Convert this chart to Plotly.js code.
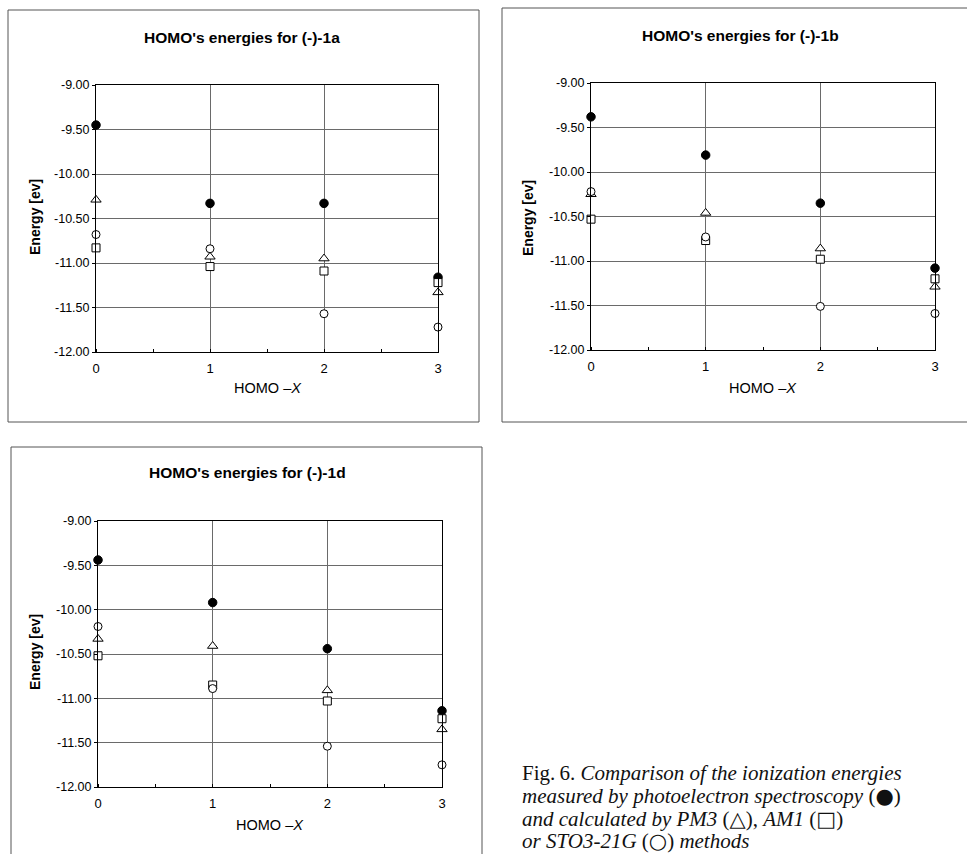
<!DOCTYPE html>
<html>
<head>
<meta charset="utf-8">
<script src="https://cdn.plot.ly/plotly-3.0.1.min.js"></script>
<style>html,body{margin:0;padding:0;background:#fff;}#chart{width:967px;height:854px;}</style>
</head>
<body>
<div id="chart"></div>
<script>
// ---- data ----
const homoX = [0, 1, 2, 3];
const yTickVals = [-12, -11.5, -11, -10.5, -10, -9.5, -9];
const yTickText = ["-12.00", "-11.50", "-11.00", "-10.50", "-10.00", "-9.50", "-9.00"];
const xTickVals = [0, 1, 2, 3];
const xTickText = ["0", "1", "2", "3"];

const titles = ["HOMO's energies for (-)-1a", "HOMO's energies for (-)-1b", "HOMO's energies for (-)-1d"];

// compound 1a
const pes1a   = [-9.45, -10.33, -10.33, -11.16];
const pm3_1a  = [-10.29, -10.93, -10.95, -11.33];
const am1_1a  = [-10.83, -11.04, -11.09, -11.22];
const sto_1a  = [-10.68, -10.84, -11.57, -11.72];
// compound 1b
const pes1b   = [-9.38, -9.81, -10.35, -11.08];
const pm3_1b  = [-10.25, -10.46, -10.86, -11.29];
const am1_1b  = [-10.53, -10.77, -10.98, -11.20];
const sto_1b  = [-10.22, -10.73, -11.51, -11.59];
// compound 1d
const pes1d   = [-9.44, -9.92, -10.44, -11.14];
const pm3_1d  = [-10.33, -10.41, -10.91, -11.35];
const am1_1d  = [-10.52, -10.85, -11.03, -11.23];
const sto_1d  = [-10.19, -10.89, -11.54, -11.75];

const methodNames = ["Photoelectron spectroscopy", "PM3", "AM1", "STO3-21G"];

const sym = s => "<span style=\"font-family:'DejaVu Sans'\">" + s + "\uFE0E</span>";
const captionLines = [
  "Fig.\u20096. <i>Comparison of the ionization energies</i>",
  "<i>measured by photoelectron spectroscopy</i> (" + sym("\u25CF") + ")",
  "<i>and calculated by PM3</i> (" + sym("\u25B3") + "), <i>AM1</i> (" + sym("\u25A1") + ")",
  "<i>or STO3-21G</i> (" + sym("\u25CB") + ") <i>methods</i>"
];

// ---- layout helpers ----
const W = 967, H = 854;
const px = v => v / W;
const py = v => 1 - v / H;

const panels = [
  {series: [pes1a, pm3_1a, am1_1a, sto_1a], plot: [96, 438, 85, 352], frame: [8, 479, 10, 422],
   title: [242, 37], ytitle: [35, 217], xtitle: [268, 388]},
  {series: [pes1b, pm3_1b, am1_1b, sto_1b], plot: [591, 935, 83, 350], frame: [502, 975, 8, 422],
   title: [740, 35], ytitle: [528, 218], xtitle: [763, 388]},
  {series: [pes1d, pm3_1d, am1_1d, sto_1d], plot: [98, 442, 521, 787], frame: [11, 482, 447, 870],
   title: [247, 473], ytitle: [35, 652], xtitle: [270, 825]}
];

const markerStyles = [
  {symbol: "circle", color: "#000", line: {color: "#000", width: 1}, size: 8.5},
  {symbol: "triangle-up", color: "#fff", line: {color: "#000", width: 1}, size: 9},
  {symbol: "square", color: "#fff", line: {color: "#000", width: 1}, size: 8},
  {symbol: "circle", color: "#fff", line: {color: "#000", width: 1}, size: 8}
];

const traces = [];
const layout = {
  width: W, height: H,
  margin: {l: 0, r: 0, t: 0, b: 0},
  paper_bgcolor: "#fff", plot_bgcolor: "#fff",
  showlegend: false,
  font: {family: "Liberation Sans, Arial, sans-serif", color: "#000"},
  shapes: [], annotations: []
};

panels.forEach((p, i) => {
  const n = i === 0 ? "" : String(i + 1);
  const xa = "x" + n, ya = "y" + n;
  p.series.forEach((vals, k) => {
    traces.push({
      x: homoX, y: vals, type: "scatter", mode: "markers",
      name: methodNames[k], xaxis: xa, yaxis: ya,
      marker: markerStyles[k], cliponaxis: false, hoverinfo: "x+y+name"
    });
  });
  layout["xaxis" + n] = {
    domain: [px(p.plot[0]), px(p.plot[1])], anchor: ya,
    range: [0, 3], tickvals: xTickVals, ticktext: xTickText,
    showgrid: true, gridcolor: "#6a6a6a", gridwidth: 1,
    showline: true, linecolor: "#000", linewidth: 1, mirror: true,
    ticks: "", ticklabelstandoff: 4, zeroline: false, tickfont: {size: 13, color: "#000"},
    minor: {dtick: 0.5, tick0: 0, ticks: "inside", ticklen: 3, tickcolor: "#000", showgrid: false},
    fixedrange: true
  };
  layout["yaxis" + n] = {
    domain: [py(p.plot[3]), py(p.plot[2])], anchor: xa,
    range: [-12, -9], tickvals: yTickVals, ticktext: yTickText,
    showgrid: true, gridcolor: "#6a6a6a", gridwidth: 1,
    showline: true, linecolor: "#000", linewidth: 1, mirror: true,
    ticks: "outside", ticklen: 3, tickcolor: "#000",
    zeroline: false, tickfont: {size: 12.5, color: "#000"},
    fixedrange: true
  };
  // outer frame
  layout.shapes.push({type: "rect", xref: "paper", yref: "paper",
    x0: px(p.frame[0]), x1: px(p.frame[1]), y0: py(p.frame[3]), y1: py(p.frame[2]),
    line: {color: "#555", width: 1}, fillcolor: "rgba(0,0,0,0)", layer: "below"});
  // chart title
  layout.annotations.push({text: "<b>" + titles[i] + "</b>", xref: "paper", yref: "paper",
    x: px(p.title[0]), y: py(p.title[1]), xanchor: "center", yanchor: "middle",
    showarrow: false, font: {size: 15.5, color: "#000"}});
  // y title
  layout.annotations.push({text: "<b>Energy [ev]</b>", xref: "paper", yref: "paper",
    x: px(p.ytitle[0]), y: py(p.ytitle[1]), xanchor: "center", yanchor: "middle",
    textangle: -90, showarrow: false, font: {size: 14, color: "#000"}});
  // x title
  layout.annotations.push({text: "HOMO \u2013<i>X</i>", xref: "paper", yref: "paper",
    x: px(p.xtitle[0]), y: py(p.xtitle[1]), xanchor: "center", yanchor: "middle",
    showarrow: false, font: {size: 14.5, color: "#000"}});
});

// caption, one annotation per line for tight line spacing
const captionCenters = [773, 796, 819, 841];
captionLines.forEach((line, j) => {
  layout.annotations.push({
    text: line, xref: "paper", yref: "paper", x: px(520), y: py(captionCenters[j]),
    xanchor: "left", yanchor: "middle", align: "left", showarrow: false,
    font: {family: "Liberation Serif, Times New Roman, serif", size: 21, color: "#111"}
  });
});

Plotly.newPlot("chart", traces, layout, {staticPlot: true, displayModeBar: false});
</script>
</body>
</html>
